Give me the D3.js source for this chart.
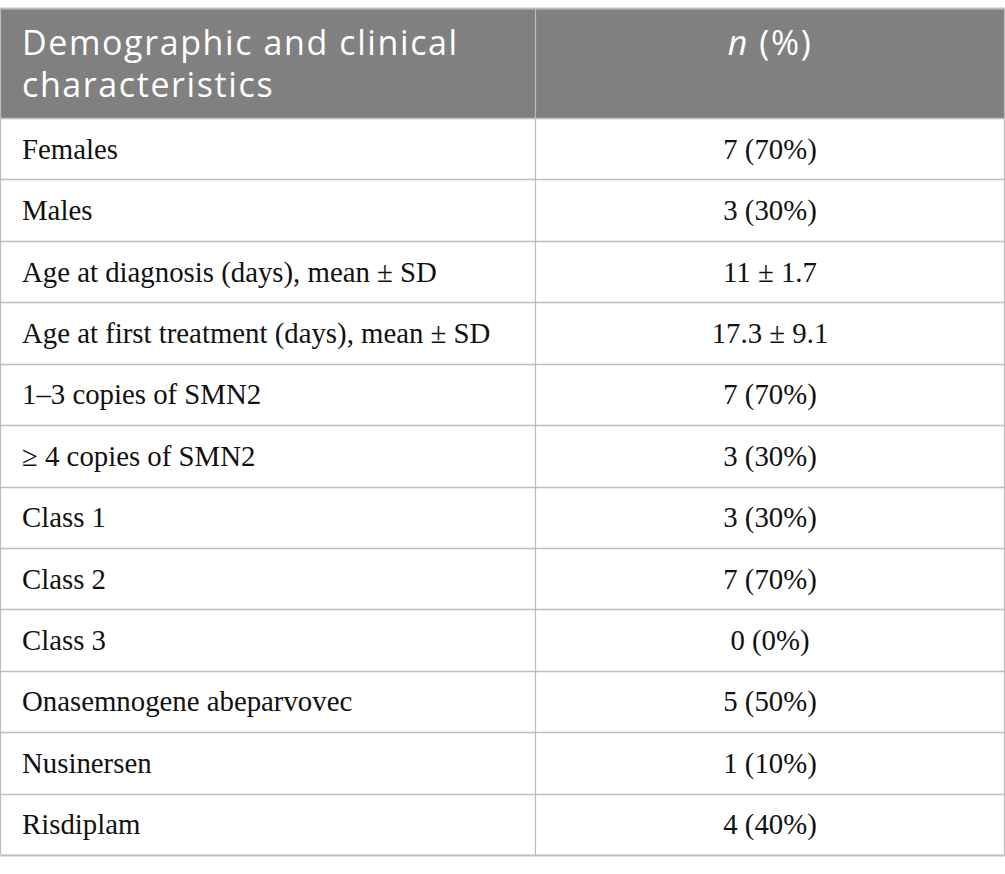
<!DOCTYPE html>
<html>
<head>
<meta charset="utf-8">
<script src="https://cdn.jsdelivr.net/npm/d3@7"></script>
<style>
  body { margin: 0; background: #fff; }
</style>
</head>
<body>
<div id="table"></div>
<script>
// Table content
var headers = ["Demographic and clinical|characteristics", "n (%)"];
var labels = [
    "Females",
    "Males",
    "Age at diagnosis (days), mean ± SD",
    "Age at first treatment (days), mean ± SD",
    "1–3 copies of SMN2",
    "≥ 4 copies of SMN2",
    "Class 1",
    "Class 2",
    "Class 3",
    "Onasemnogene abeparvovec",
    "Nusinersen",
    "Risdiplam"
];
var values = [
    "7 (70%)",
    "3 (30%)",
    "11 ± 1.7",
    "17.3 ± 9.1",
    "7 (70%)",
    "3 (30%)",
    "3 (30%)",
    "7 (70%)",
    "0 (0%)",
    "5 (50%)",
    "1 (10%)",
    "4 (40%)"
];

var width = 1005, height = 874;
var tableTop = 8, headerH = 110, tableBottom = 855;
var left = 0.5, right = 1004.5, divider = 535.5;

var svg = d3.select("#table")
    .append("svg")
    .attr("width", width)
    .attr("height", height);

// row scale
var y = d3.scaleBand()
    .domain(d3.range(labels.length))
    .range([tableTop + headerH, tableBottom]);

// header background
svg.append("rect")
    .attr("x", left)
    .attr("y", tableTop)
    .attr("width", right - left)
    .attr("height", headerH)
    .attr("fill", "#808080");

// header text
var h0 = headers[0].split("|");
svg.append("text")
    .attr("x", 22)
    .attr("y", tableTop + 47)
    .attr("fill", "#fff")
    .style("font-family", "'Open Sans', sans-serif")
    .style("font-size", "34px")
    .style("letter-spacing", "1.6px")
    .selectAll("tspan")
    .data(h0)
    .enter().append("tspan")
    .attr("x", 22)
    .attr("dy", function(d, i) { return i === 0 ? 0 : 42; })
    .text(function(d) { return d; });

var h1 = svg.append("text")
    .attr("x", (divider + right) / 2)
    .attr("y", tableTop + 47)
    .attr("fill", "#fff")
    .attr("text-anchor", "middle")
    .style("font-family", "'Open Sans', sans-serif")
    .style("font-size", "34px")
    .style("letter-spacing", "1.6px");
h1.append("tspan").style("font-style", "italic").text("n");
h1.append("tspan").text(" (%)");

// body rows
var rows = svg.selectAll(".row")
    .data(labels)
    .enter().append("g")
    .attr("class", "row")
    .attr("transform", function(d, i) { return "translate(0," + y(i) + ")"; });

rows.append("text")
    .attr("x", 22)
    .attr("y", y.bandwidth() / 2 + 10)
    .attr("fill", "#111")
    .style("font-family", "'Liberation Serif', serif")
    .style("font-size", "28.8px")
    .text(function(d) { return d; });

rows.append("text")
    .attr("x", (divider + right) / 2)
    .attr("y", y.bandwidth() / 2 + 10)
    .attr("text-anchor", "middle")
    .attr("fill", "#111")
    .style("font-family", "'Liberation Serif', serif")
    .style("font-size", "28.8px")
    .text(function(d, i) { return values[i]; });

// grid lines
var lineColor = "#bdbdbd";
var hLines = [tableTop, tableTop + headerH].concat(d3.range(1, labels.length).map(function(i) { return y(i); })).concat([tableBottom]);
svg.selectAll(".hline")
    .data(hLines)
    .enter().append("line")
    .attr("class", "hline")
    .attr("x1", left).attr("x2", right)
    .attr("y1", function(d) { return Math.round(d) + 0.5; })
    .attr("y2", function(d) { return Math.round(d) + 0.5; })
    .attr("stroke", lineColor)
    .attr("stroke-width", function(d, i) { return (i === 0 || i === hLines.length - 1) ? 2 : 1.5; });

svg.selectAll(".vline")
    .data([left, divider, right])
    .enter().append("line")
    .attr("class", "vline")
    .attr("x1", function(d) { return d; })
    .attr("x2", function(d) { return d; })
    .attr("y1", tableTop)
    .attr("y2", tableBottom)
    .attr("stroke", lineColor)
    .attr("stroke-width", 1.2);
</script>
</body>
</html>
